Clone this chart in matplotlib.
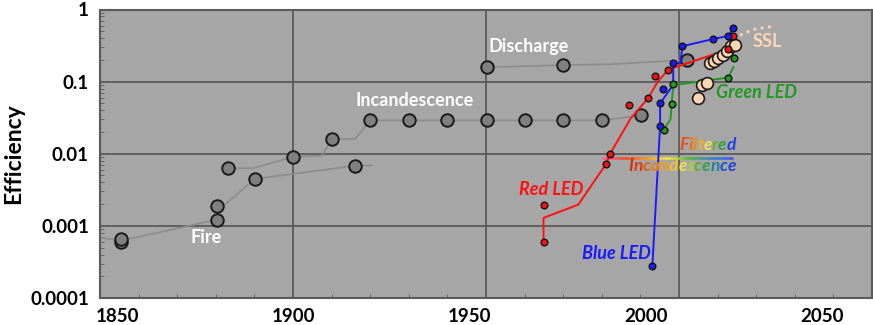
import numpy as np
import matplotlib
matplotlib.use("Agg")
import matplotlib.pyplot as plt
from matplotlib.collections import LineCollection
from matplotlib.colors import LinearSegmentedColormap

plt.rcParams['font.family'] = ['Lato', 'DejaVu Sans']

# gray "conventional lighting" points and step lines
gray_yr = [1855.4, 1855.4, 1880.2, 1880.2, 1883.2, 1890.2, 1900.1, 1910.2, 1916.1,
           1920, 1930, 1940, 1950.2, 1960.1, 1970, 1980, 1990.1,
           1950.2, 1970, 2002.2]
gray_eff = [0.00059, 0.00066, 0.00122, 0.0019, 0.0063, 0.0045, 0.0091, 0.016, 0.0068,
            0.029, 0.029, 0.029, 0.029, 0.029, 0.029, 0.029, 0.034,
            0.158, 0.17, 0.20]

fire_line_yr = [1850, 1855.4, 1880.2, 1880.2, 1882, 1890.2, 1916.1, 1920.4]
fire_line_eff = [0.00069, 0.00062, 0.00122, 0.0019, 0.0019, 0.0045, 0.0068, 0.0069]

inc_line_yr = [1883.2, 1889.7, 1900.1, 1907.4, 1910.2, 1916.1, 1919.9, 1980, 1990.1]
inc_line_eff = [0.0063, 0.0063, 0.0091, 0.0094, 0.016, 0.016, 0.029, 0.029, 0.034]

dis_line_yr = [1950.2, 1970, 1982, 2002.2]
dis_line_eff = [0.158, 0.17, 0.174, 0.20]

# LEDs
red_yr = [1964.9, 1964.9, 1981.1, 1982.1, 1987.1, 1992.0, 1993.9, 1997.2, 2012.8, 2014.1]
red_eff = [0.0006, 0.00197, 0.0072, 0.0099, 0.048, 0.059, 0.121, 0.146, 0.28, 0.43]
red_line_yr = [1964.9, 1964.9, 1973.9, 1981.1, 1982.1, 1987.5, 1992.0, 1994.5, 1997.2, 2012.8, 2014.1]
red_line_eff = [0.0006, 0.00129, 0.00197, 0.0072, 0.0099, 0.031, 0.059, 0.10, 0.146, 0.28, 0.43]

blue_yr = [1993.1, 1995.1, 1995.1, 1995.9, 1998.5, 2000.9, 2008.9, 2012.8, 2014.1]
blue_eff = [0.00028, 0.024, 0.050, 0.079, 0.18, 0.31, 0.39, 0.43, 0.55]
blue_line_yr = [1993.1, 1995.1, 1995.1, 1998.5, 1998.5, 2000.3, 2000.9, 2008.9, 2012.8, 2014.1]
blue_line_eff = [0.00028, 0.024, 0.050, 0.090, 0.18, 0.18, 0.31, 0.39, 0.43, 0.55]

green_yr = [1996.0, 1998.1, 1998.5, 2012.8, 2014.3]
green_eff = [0.0215, 0.049, 0.092, 0.114, 0.21]
green_line_yr = [1996.0, 1997.8, 1998.1, 1998.5, 2000.3, 2012.8, 2014.1]
green_line_eff = [0.0215, 0.030, 0.049, 0.088, 0.092, 0.114, 0.16]

# solid state lighting
ssl_yr = [2005.0, 2005.9, 2007.2, 2008.0, 2009.1, 2010.2, 2011.3, 2012.5, 2013.6, 2014.5]
ssl_eff = [0.059, 0.090, 0.097, 0.18, 0.196, 0.21, 0.235, 0.27, 0.31, 0.32]
ssl_proj_yr = [2015.8, 2019.2, 2024.9]
ssl_proj_eff = [0.44, 0.53, 0.59]

# filtered incandescence band
filt_yr = [1980.1, 2014.1]
filt_eff = 0.0087

x_ticks = [1850, 1900, 1950, 2000, 2050]
y_ticks = [0.0001, 0.001, 0.01, 0.1, 1]
y_labels = ['0.0001', '0.001', '0.01', '0.1', '1']

BG = '#a6a6a6'
GRID = '#5a5a5a'
GRAY = '#808080'
PEACH = '#fcd5b4'


def rainbow_text(ax, x, y, text, colors, **kw):
    t = ax.text(x, y, text[0], color=colors[0], ha='left', va='bottom', **kw)
    for ch, c in zip(text[1:], colors[1:]):
        t = ax.annotate(ch, xycoords=t, xy=(1, 0), ha='left', va='bottom', color=c, **kw)


fig = plt.figure(figsize=(8.73, 3.25), dpi=100)
ax = fig.add_axes([100 / 873, 1 - 298 / 325, 772 / 873, 288.5 / 325])
ax.set_facecolor(BG)
ax.set_yscale('log')
ax.set_xlim(1850, 2050)
ax.set_ylim(0.0001, 1)

ax.set_xticks(x_ticks)
ax.set_xticks(np.arange(1850, 2051, 10), minor=True)
ax.set_yticks(y_ticks)
ax.set_yticklabels(y_labels)
ax.grid(True, which='major', color=GRID, lw=1.3)
ax.set_axisbelow(True)
for s in ax.spines.values():
    s.set_color(GRID)
    s.set_linewidth(1.5)
ax.tick_params(axis='x', which='major', length=0, labelbottom=False)
ax.tick_params(axis='x', which='minor', direction='in', length=3, color=GRID)
ax.tick_params(axis='y', which='major', length=0, pad=8, labelsize=13.5)
ax.tick_params(axis='y', which='minor', direction='in', length=3, color=GRID)
for lab in ax.get_yticklabels():
    lab.set_fontweight('bold')
ax.set_ylabel('Efficiency', fontsize=16.5, fontweight='bold', labelpad=4)

# tick labels sit slightly offset from the gridlines in the original
a, b = 17 / 772, 705 / 772
sec = ax.secondary_xaxis('bottom',
                         functions=(lambda y: 1850 + ((y - 1850) / 200 - a) / b * 200,
                                    lambda l: 1850 + (a + (l - 1850) / 200 * b) * 200))
sec.set_xticks(x_ticks)
sec.tick_params(length=0, pad=7, labelsize=13.5)
sec.spines['bottom'].set_visible(False)
for lab in sec.get_xticklabels():
    lab.set_fontweight('bold')

# gray series
lkw = dict(color='#8c8c8c', lw=1.2, zorder=2)
ax.plot(fire_line_yr, fire_line_eff, **lkw)
ax.plot(inc_line_yr, inc_line_eff, **lkw)
ax.plot(dis_line_yr, dis_line_eff, **lkw)
ax.plot(gray_yr, gray_eff, 'o', ms=9, mfc=GRAY, mec='#1a1a1a', mew=1.4, zorder=3)

# filtered incandescence gradient line
xs = np.linspace(filt_yr[0], filt_yr[1], 60)
segs = [[(xs[i], filt_eff), (xs[i + 1], filt_eff)] for i in range(len(xs) - 1)]
rb = LinearSegmentedColormap.from_list('rb', ['#ff5c9a', '#ff3a20', '#ff9a10', '#ffee40',
                                              '#40b830', '#2f7fd0', '#3050ff'])
lc = LineCollection(segs, colors=rb(np.linspace(0, 1, len(segs))), lw=1.8, zorder=4)
ax.add_collection(lc)

# LED lines
ax.plot(red_line_yr, red_line_eff, color='#ff1010', lw=1.4, zorder=4)
ax.plot(blue_line_yr, blue_line_eff, color='#1a1aff', lw=1.4, zorder=4)
ax.plot(green_line_yr, green_line_eff, color='#1f9a1f', lw=1.4, zorder=4)

# SSL
ax.plot(ssl_proj_yr, ssl_proj_eff, ':', color=PEACH, lw=2, zorder=4)
ax.plot(ssl_yr, ssl_eff, 'o', ms=8.5, mfc=PEACH, mec='#1a1a1a', mew=1.2, zorder=5)

# LED points
pkw = dict(ms=4.8, mec='#111111', mew=1.0, zorder=6, ls='none', marker='o')
ax.plot(red_yr, red_eff, mfc='#ff1010', **pkw)
ax.plot(green_yr, green_eff, mfc='#1f9a1f', **pkw)
ax.plot(blue_yr, blue_eff, mfc='#1a1aff', **pkw)

# labels
tkw = dict(fontsize=13, fontweight='bold', ha='center', va='center', zorder=7)
ax.text(1877.5, 0.00068, 'Fire', color='white', **tkw)
ax.text(1931.6, 0.054, 'Incandescence', color='white', **tkw)
ax.text(1961.0, 0.31, 'Discharge', color='white', **tkw)
ax.text(2022.8, 0.36, 'SSL', color=PEACH, **tkw)
ikw = dict(tkw, style='italic')
ax.text(2020.1, 0.070, 'Green LED', color='#1f9a1f', **ikw)
ax.text(1967.0, 0.0032, 'Red LED', color='#ff1010', **ikw)
ax.text(1983.7, 0.00041, 'Blue LED', color='#1a1aff', **ikw)

rkw = dict(fontsize=12.5, fontweight='bold', style='italic', zorder=7)
rainbow_text(ax, 2000.1, 0.0103, 'Filtered',
             ['#e8501c', '#f06a10', '#f08a10', '#f0b020', '#f0e060', '#70b030', '#30a040', '#2040e0'],
             **rkw)
rainbow_text(ax, 1986.9, 0.0053, 'Incandescence',
             ['#c83010', '#d84010', '#e06010', '#e88010', '#f0a020', '#f0c030', '#f0e050',
              '#b0d040', '#60b030', '#30a050', '#2080a0', '#2050d0', '#2040e0'],
             **rkw)

fig.savefig('out.png', dpi=100)
